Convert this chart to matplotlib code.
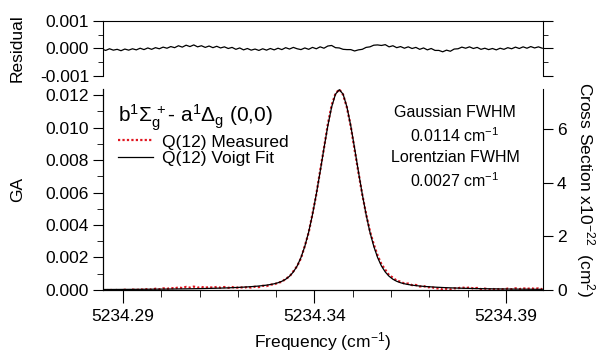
import numpy as np
import matplotlib
matplotlib.use("Agg")
import matplotlib.pyplot as plt
from matplotlib.ticker import MultipleLocator

plt.rcParams['font.family'] = ['Liberation Sans', 'DejaVu Sans']
plt.rcParams['mathtext.fontset'] = 'custom'
plt.rcParams['mathtext.rm'] = 'Liberation Sans'
plt.rcParams['mathtext.it'] = 'Liberation Sans:italic'
plt.rcParams['mathtext.bf'] = 'Liberation Sans:bold'

# frequency grid of the scan (cm-1)
freq = [
    5234.2845, 5234.2855, 5234.2865, 5234.2875, 5234.2885, 5234.2895, 5234.2905, 5234.2915, 5234.2925, 5234.2935,
    5234.2945, 5234.2955, 5234.2965, 5234.2975, 5234.2985, 5234.2995, 5234.3005, 5234.3015, 5234.3025, 5234.3035,
    5234.3045, 5234.3055, 5234.3065, 5234.3075, 5234.3085, 5234.3095, 5234.3105, 5234.3115, 5234.3125, 5234.3135,
    5234.3145, 5234.3155, 5234.3165, 5234.3175, 5234.3185, 5234.3195, 5234.3205, 5234.3215, 5234.3225, 5234.3235,
    5234.3245, 5234.3255, 5234.3265, 5234.3275, 5234.3285, 5234.3295, 5234.3305, 5234.3315, 5234.3325, 5234.3335,
    5234.3345, 5234.3355, 5234.3365, 5234.3375, 5234.3385, 5234.3395, 5234.3405, 5234.3415, 5234.3425, 5234.3435,
    5234.3445, 5234.3455, 5234.3465, 5234.3475, 5234.3485, 5234.3495, 5234.3505, 5234.3515, 5234.3525, 5234.3535,
    5234.3545, 5234.3555, 5234.3565, 5234.3575, 5234.3585, 5234.3595, 5234.3605, 5234.3615, 5234.3625, 5234.3635,
    5234.3645, 5234.3655, 5234.3665, 5234.3675, 5234.3685, 5234.3695, 5234.3705, 5234.3715, 5234.3725, 5234.3735,
    5234.3745, 5234.3755, 5234.3765, 5234.3775, 5234.3785, 5234.3795, 5234.3805, 5234.3815, 5234.3825, 5234.3835,
    5234.3845, 5234.3855, 5234.3865, 5234.3875, 5234.3885, 5234.3895, 5234.3905, 5234.3915, 5234.3925, 5234.3935,
    5234.3945, 5234.3955, 5234.3965, 5234.3975, 5234.3985, 5234.3995,
]

# Voigt fit, GA x 1e4
ga_fit_e4 = [
    0.30, 0.31, 0.32, 0.33, 0.34, 0.35, 0.37, 0.38, 0.39, 0.41,
    0.42, 0.44, 0.46, 0.48, 0.50, 0.52, 0.54, 0.56, 0.59, 0.62,
    0.65, 0.68, 0.71, 0.75, 0.79, 0.83, 0.87, 0.92, 0.98, 1.03,
    1.10, 1.17, 1.24, 1.33, 1.42, 1.52, 1.64, 1.76, 1.91, 2.06,
    2.24, 2.45, 2.70, 2.99, 3.36, 3.83, 4.46, 5.35, 6.62, 8.46,
    11.1, 14.8, 20.0, 26.9, 35.6, 46.4, 59.0, 72.8, 87.2, 101.0,
    112.6, 120.5, 123.3, 120.5, 112.6, 101.0, 87.2, 72.8, 59.0, 46.4,
    35.6, 26.9, 20.0, 14.8, 11.1, 8.46, 6.62, 5.35, 4.46, 3.83,
    3.36, 2.99, 2.70, 2.45, 2.24, 2.06, 1.91, 1.76, 1.64, 1.52,
    1.42, 1.33, 1.24, 1.17, 1.10, 1.03, 0.98, 0.92, 0.87, 0.83,
    0.79, 0.75, 0.71, 0.68, 0.65, 0.62, 0.59, 0.56, 0.54, 0.52,
    0.50, 0.48, 0.46, 0.44, 0.42, 0.41,
]

# residual (measured - fit), x 1e4
resid_e4 = [
    -0.2, -0.7, -0.1, -0.6, -0.3, -0.8, -0.2, -0.6, -0.1, -0.5,
    0.1, -0.4, 0.2, -0.3, 0.3, -0.1, 0.5, 0.1, 0.7, 0.3,
    1.0, 0.5, 1.2, 0.7, 1.3, 0.6, 1.0, 0.4, 0.9, 0.3,
    0.8, 0.2, 0.6, 0.0, 0.4, -0.3, 0.2, -0.5, 0.0, -0.6,
    -0.2, -0.7, -0.1, -0.6, 0.0, -0.5, 0.1, -0.4, 0.3, -0.2,
    0.4, -0.1, -0.4, 0.2, -0.3, 0.4, -0.1, 0.6, 0.1, 0.9,
    1.1, 0.3, 0.2, -0.3, -0.4, -0.4, -0.9, -0.5, -0.3, 0.4,
    0.6, 1.2, 1.3, 1.1, 1.4, 0.6, 1.0, 0.3, 0.7, 0.1,
    0.6, 0.0, 0.4, -0.3, 0.2, -0.5, 0.0, -0.7, -0.7, -1.2,
    -0.6, -1.0, -0.2, -0.1, 0.5, 0.1, 0.6, 0.0, 0.4, -0.3,
    0.1, -0.4, 0.0, -0.5, 0.1, -0.3, 0.3, -0.1, 0.5, 0.0,
    0.6, 0.1, 0.7, 0.2, 0.6, 0.1,
]

freq = np.array(freq)
ga_fit = np.array(ga_fit_e4) * 1e-4
resid = np.array(resid_e4) * 1e-4
ga_meas = ga_fit + resid

xlim = (5234.2848, 5234.3997)
fs = 12.5

fig = plt.figure(figsize=(6.12, 3.54), dpi=100)
ax_r = fig.add_axes([0.1683, 0.7853, 0.7190, 0.1554])
ax = fig.add_axes([0.1683, 0.1808, 0.7190, 0.5678])

# residual panel
ax_r.plot(freq, resid, color='black', lw=0.9)
ax_r.set_xlim(xlim)
ax_r.set_ylim(-0.001, 0.001)
ax_r.set_yticks([-0.001, 0.0, 0.001])
ax_r.set_yticklabels(['-0.001', '0.000', '0.001'])
ax_r.yaxis.set_minor_locator(MultipleLocator(0.0005))
ax_r.spines['bottom'].set_visible(False)
ax_r.tick_params(axis='x', bottom=False, labelbottom=False)
ax_r.tick_params(axis='y', which='both', direction='out', left=True, right=True, labelsize=fs, pad=3)
ax_r.tick_params(axis='y', which='major', length=7)
ax_r.tick_params(axis='y', which='minor', length=3.5)
ax_r.set_ylabel('Residual', fontsize=fs, labelpad=11)

# main panel
ax.plot(freq, ga_meas, color='#e0141e', lw=1.6, ls=(0, (1, 1)), label='Q(12) Measured', zorder=2)
ax.plot(freq, ga_fit, color='black', lw=0.9, label='Q(12) Voigt Fit', zorder=3)
ax.set_xlim(xlim)
ax.set_ylim(0, 0.01237)
ax.set_yticks([0.0, 0.002, 0.004, 0.006, 0.008, 0.010, 0.012])
ax.set_yticklabels(['0.000', '0.002', '0.004', '0.006', '0.008', '0.010', '0.012'])
ax.yaxis.set_minor_locator(MultipleLocator(0.001))
ax.set_xticks([5234.29, 5234.34, 5234.39])
ax.set_xticklabels(['5234.29', '5234.34', '5234.39'])
ax.xaxis.set_minor_locator(MultipleLocator(0.01))
ax.spines['top'].set_visible(False)
ax.spines['right'].set_visible(False)
ax.tick_params(axis='both', which='both', direction='out', labelsize=fs)
ax.tick_params(axis='y', which='major', length=7, pad=3)
ax.tick_params(axis='y', which='minor', length=4)
ax.tick_params(axis='x', which='major', length=9, pad=5)
ax.tick_params(axis='x', which='minor', length=5)
ax.set_ylabel('GA', fontsize=fs, labelpad=15)
ax.set_xlabel('Frequency (cm$^{-1}$)', fontsize=fs, labelpad=4)

leg = ax.legend(loc='upper left', bbox_to_anchor=(0.035, 0.935), frameon=False,
                fontsize=fs, handlelength=2.0, handletextpad=0.5, labelspacing=0.1,
                borderpad=0, borderaxespad=0,
                title=r'b$^1\Sigma_\mathrm{g}^{\,+}$- a$^1\Delta_\mathrm{g}$ (0,0)', title_fontsize=15,
                alignment='left')

ax.text(0.80, 0.92, 'Gaussian FWHM\n0.0114 cm$^{-1}$\nLorentzian FWHM\n0.0027 cm$^{-1}$',
        transform=ax.transAxes, ha='center', va='top', fontsize=11.5, linespacing=1.4)

# cross section axis
ax2 = ax.twinx()
ax2.set_ylim(0, 7.5)
ax2.set_yticks([0, 2, 4, 6])
ax2.spines['top'].set_visible(False)
ax2.tick_params(axis='y', direction='out', length=7, labelsize=fs, pad=3)
ax2.set_ylabel('Cross Section x10$^{-22}$  (cm$^{2}$)', fontsize=fs, rotation=270, labelpad=22)

fig.savefig('out.png', dpi=100)
